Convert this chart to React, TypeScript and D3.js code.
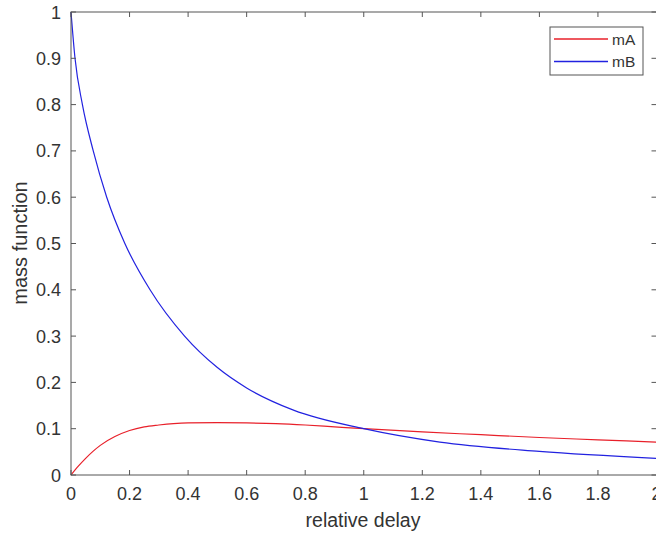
import React from "react";
import * as d3 from "d3";

// mA samples
const delayA = [0, 0.025, 0.05, 0.075, 0.1, 0.15, 0.2, 0.25, 0.3, 0.35, 0.4, 0.5, 0.6, 0.7, 0.8, 0.9, 1.0, 1.2, 1.4, 1.6, 1.8, 2.0];
const mA = [0, 0.019, 0.036, 0.051, 0.064, 0.083, 0.096, 0.104, 0.108, 0.111, 0.1125, 0.113, 0.1125, 0.111, 0.108, 0.104, 0.1, 0.093, 0.087, 0.081, 0.076, 0.071];

// mB samples (where it crosses the grid values)
const delayB = [0, 0.0137, 0.039, 0.076, 0.122, 0.184, 0.27, 0.388, 0.5, 0.6, 0.76, 1.0, 1.26, 1.6, 2.0];
const mB = [1, 0.9, 0.8, 0.7, 0.6, 0.5, 0.4, 0.3, 0.232, 0.188, 0.14, 0.1, 0.071, 0.051, 0.036];

const xTicks = [0, 0.2, 0.4, 0.6, 0.8, 1, 1.2, 1.4, 1.6, 1.8, 2];
const yTicks = [0, 0.1, 0.2, 0.3, 0.4, 0.5, 0.6, 0.7, 0.8, 0.9, 1];

const seriesNames = ["mA", "mB"];
const seriesColors = ["#e8202a", "#2222e0"];

const W = 656;
const H = 533;
const left = 71;
const right = 656.5;
const top = 12;
const bottom = 475;
const tickLen = 5;
const axisColor = "#555";
const textColor = "#333";
const font = "'Liberation Sans', Arial, Helvetica, sans-serif";

const App = () => {
  const x = d3.scaleLinear().domain([0, 2]).range([left, right]);
  const y = d3.scaleLinear().domain([0, 1]).range([bottom, top]);

  const line = d3
    .line<[number, number]>()
    .x((d) => x(d[0]))
    .y((d) => y(d[1]))
    .curve(d3.curveMonotoneX);

  const series: [number, number][][] = [
    delayA.map((t, i) => [t, mA[i]]),
    delayB.map((t, i) => [t, mB[i]]),
  ];

  return (
    <svg width={W} height={H} style={{ position: "absolute", left: 0, top: 0, background: "#fff" }}>
      <rect x={0} y={0} width={W} height={H} fill="#fff" />

      {series.map((s, i) => (
        <path key={seriesNames[i]} d={line(s) || ""} fill="none" stroke={seriesColors[i]} strokeWidth={1.2} />
      ))}

      {/* axes box */}
      <rect x={left} y={top} width={right - left} height={bottom - top} fill="none" stroke={axisColor} strokeWidth={1} />

      {xTicks.map((t) => (
        <g key={"x" + t}>
          <line x1={x(t)} x2={x(t)} y1={bottom} y2={bottom - tickLen} stroke={axisColor} />
          <line x1={x(t)} x2={x(t)} y1={top} y2={top + tickLen} stroke={axisColor} />
          <text x={x(t)} y={500} textAnchor="middle" fontSize={18} fontFamily={font} fill={textColor}>
            {String(t)}
          </text>
        </g>
      ))}

      {yTicks.map((t) => (
        <g key={"y" + t}>
          <line x1={left} x2={left + tickLen} y1={y(t)} y2={y(t)} stroke={axisColor} />
          <line x1={right} x2={right - tickLen} y1={y(t)} y2={y(t)} stroke={axisColor} />
          <text x={61} y={y(t) + 6.5} textAnchor="end" fontSize={18} fontFamily={font} fill={textColor}>
            {String(t)}
          </text>
        </g>
      ))}

      <text x={363} y={527} textAnchor="middle" fontSize={19.5} fontFamily={font} fill={textColor}>
        relative delay
      </text>
      <text
        transform={`translate(27, 243) rotate(-90)`}
        textAnchor="middle"
        fontSize={20}
        fontFamily={font}
        fill={textColor}
      >
        mass function
      </text>

      {/* legend */}
      <rect x={550} y={27} width={93} height={48} fill="#fff" stroke={axisColor} strokeWidth={1} />
      {seriesNames.map((name, i) => (
        <g key={"leg" + name}>
          <line x1={554} x2={608} y1={39 + i * 22.5} y2={39 + i * 22.5} stroke={seriesColors[i]} strokeWidth={1.5} />
          <text x={612} y={39 + i * 22.5 + 5.5} fontSize={15.5} fontFamily={font} fill={textColor}>
            {name}
          </text>
        </g>
      ))}
    </svg>
  );
};

export default App;
